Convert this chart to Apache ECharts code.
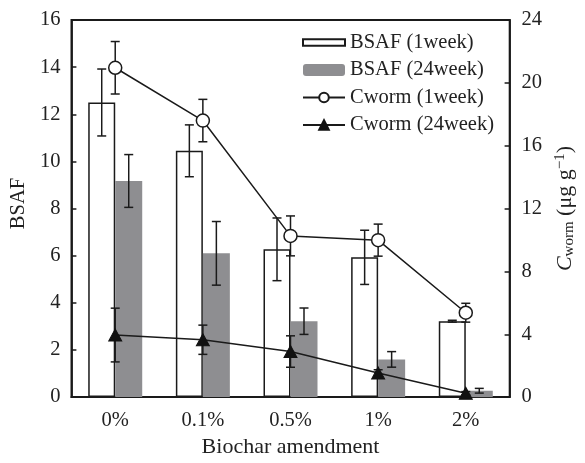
<!DOCTYPE html>
<html><head><meta charset="utf-8">
<script src="https://cdn.jsdelivr.net/npm/echarts@6/dist/echarts.min.js"></script>
<style>html,body{margin:0;padding:0;background:#fff}#c{width:585px;height:463px}</style>
</head><body><div id="c"></div>
<script>
const categories = ['0%', '0.1%', '0.5%', '1%', '2%'];
const bsaf1 = [12.5, 10.45, 6.27, 5.93, 3.22];
const bsaf1Err = [1.42, 1.1, 1.33, 1.15, 0.04];
const bsaf24 = [9.17, 6.1, 3.22, 1.6, 0.27];
const bsaf24Err = [1.12, 1.35, 0.56, 0.33, 0.1];
const cworm1 = [20.96, 17.6, 10.26, 9.99, 5.37];
const cworm1Err = [1.67, 1.35, 1.27, 1.02, 0.6];
const cworm24 = [3.95, 3.65, 2.9, 1.54, 0.25];
const cworm24Err = [1.71, 0.93, 1.0, 0.2, 0.1];
const leftTicks = {min: 0, max: 16, interval: 2};
const rightTicks = {min: 0, max: 24, interval: 4};

const FONT = 'Liberation Serif';
const BAR_W = 27;
const GRAY = '#8e8e91';
const INK = '#1a1a1a';

function errData(vals, errs) {
  return vals.map((v, i) => [i, v - errs[i], v + errs[i]]);
}
function errSeries(vals, errs, yIdx, offset, z) {
  return {
    type: 'custom', yAxisIndex: yIdx, z: z, silent: true,
    data: errData(vals, errs),
    renderItem: function (params, api) {
      const lo = api.coord([api.value(0), api.value(1)]);
      const hi = api.coord([api.value(0), api.value(2)]);
      const x = lo[0] + offset;
      const cap = 4.5;
      const st = {stroke: INK, lineWidth: 1.5};
      return {type: 'group', children: [
        {type: 'line', shape: {x1: x, y1: lo[1], x2: x, y2: hi[1]}, style: st},
        {type: 'line', shape: {x1: x - cap, y1: lo[1], x2: x + cap, y2: lo[1]}, style: st},
        {type: 'line', shape: {x1: x - cap, y1: hi[1], x2: x + cap, y2: hi[1]}, style: st}
      ]};
    }
  };
}

const chart = echarts.init(document.getElementById('c'), null, {renderer: 'canvas'});
const axisLine = {lineStyle: {color: INK, width: 1.8}};
const labelStyle = {fontFamily: FONT, fontSize: 20.5, color: '#222'};
chart.setOption({
  animation: false,
  backgroundColor: '#fff',
  textStyle: {fontFamily: FONT},
  grid: {left: 70, right: 67, top: 20, bottom: 56, show: true, borderColor: INK, borderWidth: 1.8, backgroundColor: 'transparent'},
  legend: {
    left: 297, top: 27, orient: 'vertical', itemWidth: 42, itemHeight: 12, itemGap: 6.5,
    textStyle: {fontFamily: FONT, fontSize: 20.5, color: '#222'},
    data: [
      {name: 'BSAF (1week)', icon: 'path://M0,0M0,2.7L42,2.7L42,9.3L0,9.3ZM42,12'},
      'BSAF (24week)', 'Cworm (1week)', 'Cworm (24week)'
    ]
  },
  xAxis: {
    type: 'category', data: categories,
    axisLine: axisLine,
    axisTick: {inside: true, length: 6, lineStyle: {color: INK, width: 1.5}},
    axisLabel: Object.assign({margin: 13}, labelStyle),
    name: 'Biochar amendment', nameLocation: 'middle', nameGap: 37,
    nameTextStyle: {fontFamily: FONT, fontSize: 22, color: '#222'}
  },
  yAxis: [{
    type: 'value', min: leftTicks.min, max: leftTicks.max, interval: leftTicks.interval,
    axisLine: Object.assign({show: true}, axisLine),
    axisTick: {show: true, inside: true, length: 5, lineStyle: {color: INK, width: 1.5}},
    axisLabel: Object.assign({margin: 11}, labelStyle),
    splitLine: {show: false},
    name: 'BSAF', nameLocation: 'middle', nameRotate: 90, nameGap: 40,
    nameTextStyle: {fontFamily: FONT, fontSize: 20.5, color: '#222', padding: [0, 0, 0, 10]}
  }, {
    type: 'value', min: rightTicks.min, max: rightTicks.max, interval: rightTicks.interval,
    position: 'right',
    axisLine: Object.assign({show: true}, axisLine),
    axisTick: {show: true, inside: true, length: 5, lineStyle: {color: INK, width: 1.5}},
    axisLabel: Object.assign({margin: 12}, labelStyle),
    splitLine: {show: false},
    name: '{c|C}{s|worm} (μg g{p|−1})', nameLocation: 'middle', nameRotate: 90, nameGap: 42,
    nameTextStyle: {
      fontFamily: FONT, fontSize: 22, color: '#222',
      rich: {
        c: {fontFamily: FONT, fontSize: 22, fontStyle: 'italic', color: '#222'},
        s: {fontFamily: FONT, fontSize: 15, color: '#222', verticalAlign: 'bottom', padding: [9, 0, 0, 0]},
        p: {fontFamily: FONT, fontSize: 15, color: '#222', verticalAlign: 'top', padding: [0, 0, 9, 0]}
      }
    }
  }],
  series: [
    {name: 'BSAF (1week)', type: 'bar', data: bsaf1, barWidth: BAR_W, barGap: '0%', z: 2,
     itemStyle: {color: '#fff', borderColor: INK, borderWidth: 1.5}},
    {name: 'BSAF (24week)', type: 'bar', data: bsaf24, barWidth: BAR_W, barGap: '0%', z: 2,
     itemStyle: {color: GRAY}},
    errSeries(bsaf1, bsaf1Err, 0, -BAR_W / 2, 3),
    errSeries(bsaf24, bsaf24Err, 0, BAR_W / 2, 3),
    errSeries(cworm1, cworm1Err, 1, 0, 4),
    errSeries(cworm24, cworm24Err, 1, 0, 4),
    {name: 'Cworm (1week)', type: 'line', yAxisIndex: 1, data: cworm1, z: 5,
     symbol: 'circle', symbolSize: 13,
     lineStyle: {color: INK, width: 1.5},
     itemStyle: {color: '#fff', borderColor: INK, borderWidth: 1.5}},
    {name: 'Cworm (24week)', type: 'line', yAxisIndex: 1, data: cworm24, z: 5,
     symbol: 'triangle', symbolSize: [13, 12],
     lineStyle: {color: INK, width: 1.5},
     itemStyle: {color: '#111', borderColor: '#111', borderWidth: 1}}
  ]
});
</script></body></html>
